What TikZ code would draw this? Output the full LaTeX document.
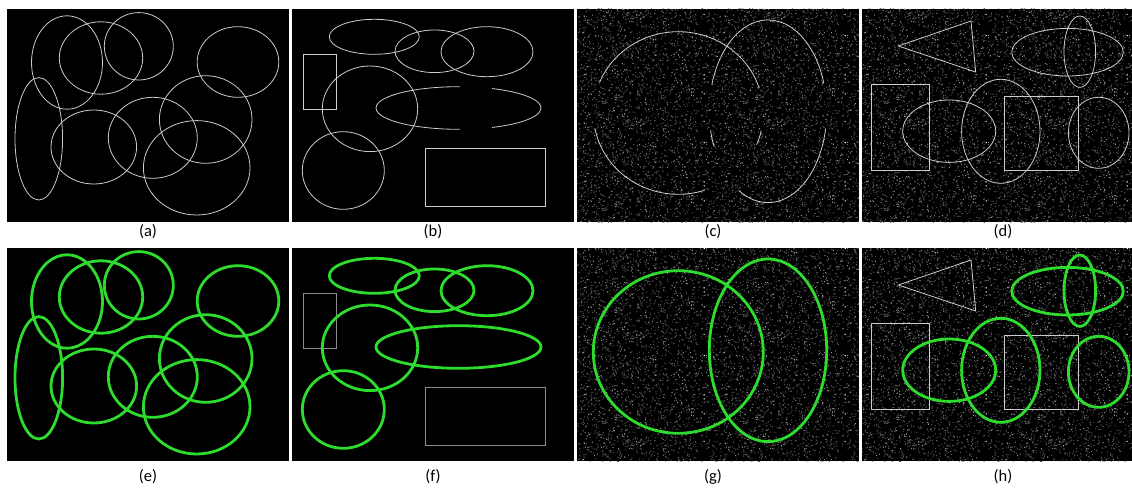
\documentclass[tikz,border=0pt]{standalone}
\usepackage{fontspec}
\setmainfont{Carlito}
\usetikzlibrary{patterns}
\pgfmathsetseed{7}
\pgfdeclarepatterninherentlycolored{noisetile}{\pgfpointorigin}{\pgfpoint{141pt}{106.5pt}}{\pgfpoint{141pt}{106.5pt}}{%
  \pgfsetfillcolor{white!33!black}%
  \foreach \i in {1,...,1100}{%
    \pgfmathsetmacro\nx{140*rnd}\pgfmathsetmacro\ny{105.5*rnd}%
    \pgfpathrectangle{\pgfpoint{\nx pt}{\ny pt}}{\pgfpoint{1pt}{1pt}}\pgfusepath{fill}}%
  \pgfsetfillcolor{white!58!black}%
  \foreach \i in {1,...,350}{%
    \pgfmathsetmacro\nx{140*rnd}\pgfmathsetmacro\ny{105.5*rnd}%
    \pgfpathrectangle{\pgfpoint{\nx pt}{\ny pt}}{\pgfpoint{1pt}{1pt}}\pgfusepath{fill}}%
}
\begin{document}
\begin{tikzpicture}[x=1pt,y=-1pt,
  panel/.style={fill=black,draw=none},
  noisy/.style={pattern=noisetile,draw=none},
  thinshape/.style={draw=white!80!black,line width=0.8pt},
  dimshape/.style={draw=white!55!black,line width=0.8pt},
  found/.style={draw=fitgreen,line width=2.8pt},
  lab/.style={font=\fontsize{16.5}{19}\selectfont,inner sep=0pt,anchor=center}]
\definecolor{fitgreen}{RGB}{45,220,45}
\fill[white] (0,0) rectangle (1132,489);
\useasboundingbox (0,0) rectangle (1132,489);
% panels
\foreach \dy in {0,239} {
  \fill[panel] (7,9+\dy) rectangle (289,222+\dy);
  \fill[panel] (292,9+\dy) rectangle (574,222+\dy);
  \fill[panel] (577,9+\dy) rectangle (859,222+\dy);
  \fill[panel] (862,9+\dy) rectangle (1132,222+\dy);
  \path[noisy] (577,9+\dy) rectangle (859,222+\dy);
  \path[noisy] (862,9+\dy) rectangle (1132,222+\dy);
}
% (a) and (e)
\foreach \dy/\st in {0/thinshape,239/found} {
  \draw[\st] (67,62.5+\dy) ellipse[x radius=35.5,y radius=46.7];
  \draw[\st] (101,58+\dy) ellipse[x radius=41.7,y radius=36.2];
  \draw[\st] (138.8,46.3+\dy) ellipse[x radius=34.5,y radius=33.7];
  \draw[\st] (238,62+\dy) ellipse[x radius=40.8,y radius=35.3];
  \draw[\st] (38.8,138.8+\dy) ellipse[x radius=23.8,y radius=61.2];
  \draw[\st] (93.8,147+\dy) ellipse[x radius=42.8,y radius=37];
  \draw[\st] (152.8,137.8+\dy) ellipse[x radius=44.5,y radius=40.5];
  \draw[\st] (205.7,119.5+\dy) ellipse[x radius=46.3,y radius=43.8];
  \draw[\st] (196.7,167.8+\dy) ellipse[x radius=53.3,y radius=47.2];
}
% (b)
\draw[thinshape] (374.3,36.8) ellipse[x radius=45,y radius=17.5];
\draw[thinshape] (434.5,51.3) ellipse[x radius=39.5,y radius=21.3];
\draw[thinshape] (487,51.7) ellipse[x radius=46,y radius=25];
\draw[thinshape] (303.3,54) rectangle (336.7,109.3);
\draw[thinshape] (370,108.8) ellipse[x radius=47.7,y radius=42.8];
\draw[thinshape] (458.5,108) ++(-89:82.5 and 21.3) arc[start angle=-89,end angle=-271,x radius=82.5,y radius=21.3];
\draw[thinshape] (458.5,108) ++(-294:82.5 and 21.3) arc[start angle=-294,end angle=-426,x radius=82.5,y radius=21.3];
\draw[thinshape] (343.3,170.5) ellipse[x radius=41,y radius=38.8];
\draw[thinshape] (425,148.3) rectangle (545,206.7);
% (f)
\draw[dimshape] (303.3,293) rectangle (336.7,348.3);
\draw[dimshape] (425,387.3) rectangle (545,445.7);
\draw[found] (374.3,275.8) ellipse[x radius=45,y radius=17.5];
\draw[found] (434.5,290.3) ellipse[x radius=39.5,y radius=21.3];
\draw[found] (487,290.7) ellipse[x radius=46,y radius=25];
\draw[found] (370,347.8) ellipse[x radius=47.7,y radius=42.8];
\draw[found] (458.5,347) ellipse[x radius=82.5,y radius=21.3];
\draw[found] (343.3,409.5) ellipse[x radius=41,y radius=38.8];
% (c)
\draw[thinshape] (678.3,113) ++(-18:85 and 81.3) arc[start angle=-18,end angle=-158,x radius=85,y radius=81.3];
\draw[thinshape] (678.3,113) ++(-191:85 and 81.3) arc[start angle=-191,end angle=-288,x radius=85,y radius=81.3];
\draw[thinshape] (678.3,113) ++(-337:85 and 81.3) arc[start angle=-337,end angle=-347,x radius=85,y radius=81.3];
\draw[thinshape] (768,111.3) ++(-18:58.7 and 91.3) arc[start angle=-18,end angle=-163,x radius=58.7,y radius=91.3];
\draw[thinshape] (768,111.3) ++(-240:58.7 and 91.3) arc[start angle=-240,end angle=-349,x radius=58.7,y radius=91.3];
\draw[thinshape] (768,111.3) ++(-192:58.7 and 91.3) arc[start angle=-192,end angle=-202,x radius=58.7,y radius=91.3];
% (g)
\draw[found] (678.3,352) ellipse[x radius=85,y radius=81.3];
\draw[found] (768,350.3) ellipse[x radius=58.7,y radius=91.3];
% (d) and (h)
\foreach \dy in {0,239} {
  \draw[thinshape] (898.3,46+\dy) -- (971,21+\dy) -- (975.7,72+\dy) -- cycle;
  \draw[thinshape] (871,84.3+\dy) rectangle (929.3,170.7+\dy);
  \draw[thinshape] (1004,96+\dy) rectangle (1078.3,170.7+\dy);
}
\foreach \dy/\st in {0/thinshape,239/found} {
  \draw[\st] (1067.5,52.2+\dy) ellipse[x radius=55.8,y radius=23.8];
  \draw[\st] (1079.8,51.7+\dy) ellipse[x radius=15.8,y radius=35.7];
  \draw[\st] (949.2,131.2+\dy) ellipse[x radius=46.5,y radius=31.2];
  \draw[\st] (1000.8,131.3+\dy) ellipse[x radius=39.2,y radius=52];
  \draw[\st] (1098.7,132.8+\dy) ellipse[x radius=30.3,y radius=35.5];
}
% labels
\node[lab] (la) at (148,232) {(a)};
\node[lab] (lb) at (433,232) {(b)};
\node[lab] (lc) at (713,232) {(c)};
\node[lab] (ld) at (1003,232) {(d)};
\node[lab] (le) at (148,477) {(e)};
\node[lab] (lf) at (433,477) {(f)};
\node[lab] (lg) at (713,477) {(g)};
\node[lab] (lh) at (1003,477) {(h)};
\end{tikzpicture}
\end{document}
